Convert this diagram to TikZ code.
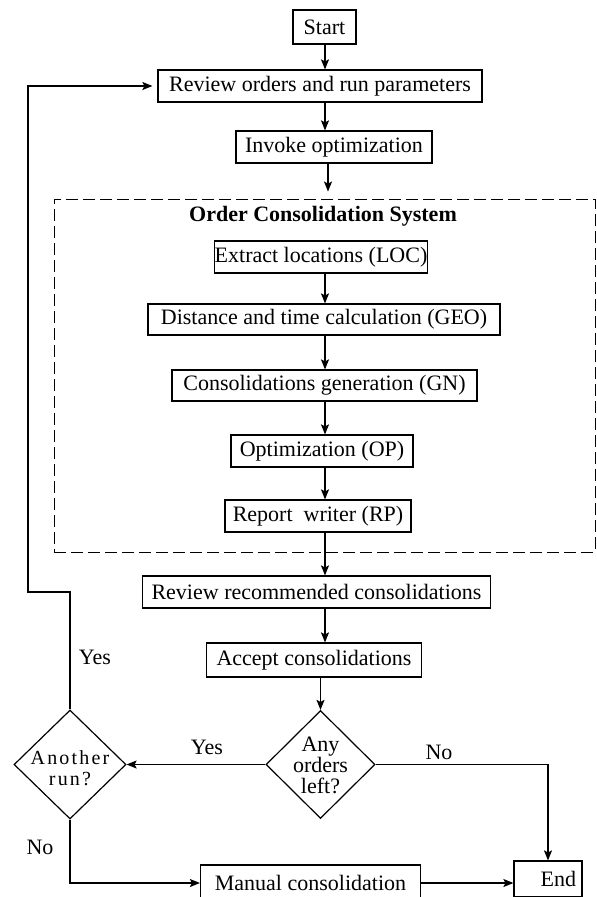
\documentclass[tikz,border=0pt]{standalone}
\usepackage{fontspec}
\setmainfont{Liberation Serif}
\usetikzlibrary{shapes.geometric,arrows.meta}
\begin{document}
\begin{tikzpicture}[x=1pt,y=-1pt,
  font=\fontsize{22}{21}\selectfont,
  box/.style={draw,line width=1.2pt,inner sep=0pt,minimum height=32pt},
  dia/.style={draw,diamond,line width=1.2pt,inner sep=0pt},
  arr/.style={line width=1.2pt,-{Stealth[length=10pt,width=8pt,inset=2pt]}},
  ln/.style={line width=1.2pt},
  lbl/.style={inner sep=0pt}]
\useasboundingbox (0,0) rectangle (597,897);
\clip (0,0) rectangle (597,897);
\coordinate (col) at (325,0);
\coordinate (icol) at (328,0);
% nodes
\node[box,minimum width=63pt,minimum height=34pt] (start) at (324.5,27) {Start};
\node[box,minimum width=324pt] (review) at (320,86) {Review orders and run parameters};
\node[box,minimum width=196pt] (invoke) at (334,147) {Invoke optimization};
\node[draw,line width=0.9pt,dash pattern=on 12pt off 5pt,inner sep=0pt,minimum width=541pt,minimum height=353pt] (ocs) at (324.5,375.5) {};
\node[lbl,font=\fontsize{22}{21}\selectfont\bfseries] (title) at (323,216) {Order Consolidation System};
\node[box,minimum width=213pt] (loc) at (321,257) {Extract locations (LOC)};
\node[box,minimum width=352pt,minimum height=31pt] (geo) at (324,319.5) {Distance and time calculation (GEO)};
\node[box,minimum width=305pt,minimum height=31pt] (gn) at (324.5,385.5) {Consolidations generation (GN)};
\node[box,minimum width=182pt] (op) at (322,451) {Optimization (OP)};
\node[box,minimum width=186pt] (rp) at (318,516) {Report\ \ writer (RP)};
\node[box,minimum width=348pt] (revrec) at (316.5,592) {Review recommended consolidations};
\node[box,minimum width=215pt,minimum height=34pt] (accept) at (314,660) {Accept consolidations};
\node[dia,minimum width=109pt,minimum height=108pt] (any) at (320.5,764.5) {};
\node[lbl,align=center] (anyT) at (320.5,765.5) {Any\\orders\\left?};
\node[dia,minimum width=112pt,minimum height=109pt] (another) at (70,764.5) {};
\node[lbl,align=center,font=\fontsize{20}{21}\selectfont\addfontfeature{LetterSpace=11}] (anotherT) at (70,768) {Another\\run?};
\node[box,minimum width=220pt,minimum height=36pt] (manual) at (310.5,883) {Manual consolidation};
\node[box,minimum width=68pt,minimum height=36pt,text width=56pt,inner xsep=6pt,align=right] (end) at (548,879) {End};
% labels
\node[lbl] (yes1) at (95,657) {Yes};
\node[lbl] (yes2) at (207,747) {Yes};
\node[lbl] (no1) at (439,752) {No};
\node[lbl] (no2) at (40,847) {No};
% connectors
\coordinate (jog) at (28,592);
\draw[arr] (start.south -| col) -- (review.north -| col);
\draw[arr] (review.south -| col) -- (invoke.north -| col);
\draw[arr] (invoke.south -| icol) -- ([yshift=7pt]ocs.north -| icol);
\draw[arr] (loc.south -| col) -- (geo.north -| col);
\draw[arr] (geo.south -| col) -- (gn.north -| col);
\draw[arr] (gn.south -| col) -- (op.north -| col);
\draw[arr] (op.south -| col) -- (rp.north -| col);
\draw[arr] (rp.south -| col) -- (revrec.north -| col);
\draw[arr] (revrec.south -| col) -- (accept.north -| col);
\draw[arr] (any.north |- accept.south) -- (any.north);
\draw[arr] (any.west) -- (another.east);
\draw[arr] (any.east) -| (end.north);
\draw[arr] (another.south) |- (manual.west);
\draw[arr] (manual.east) -- (manual.east -| end.west);
\draw[arr,shorten >=5pt] (another.north) -- (another.north |- jog) -- (jog) -- (jog |- review.west) -- (review.west);
\end{tikzpicture}
\end{document}
